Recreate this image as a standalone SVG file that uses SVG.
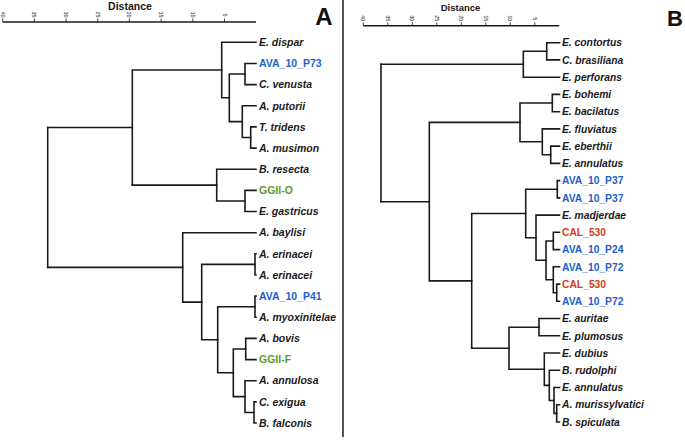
<svg xmlns="http://www.w3.org/2000/svg" width="685" height="440" viewBox="0 0 685 440">
<style>
.bg{fill:#fff}
.br{fill:none;stroke:#1a1a1a;stroke-width:1.6;stroke-linecap:square;stroke-linejoin:miter}
.ax{fill:none;stroke:#1a1a1a;stroke-width:1.5}
.tk{fill:none;stroke:#1a1a1a;stroke-width:0.8}
.tl{font-family:"Liberation Sans",Arial,sans-serif;font-size:5.5px;fill:#1a1a1a}
.ttl{font-family:"Liberation Sans",Arial,sans-serif;font-weight:bold;fill:#1a1a1a;text-anchor:middle}
.pl{font-family:"Liberation Sans",Arial,sans-serif;font-weight:bold;fill:#111}
.la{font-family:"Liberation Sans",Arial,sans-serif;font-weight:bold;font-size:10.5px}
.lb{font-family:"Liberation Sans",Arial,sans-serif;font-weight:bold;font-size:10.3px}
.sp{font-style:italic;fill:#1a1a1a}
.blue{fill:#1c62c9}
.green{fill:#5f9a2c}
.red{fill:#d4401c}
</style>
<rect class="bg" x="0" y="0" width="685" height="440"/>

<!-- Panel A axis -->
<g id="axisA">
<text class="ttl" x="130" y="9.8" font-size="10.5">Distance</text>
<line class="ax" x1="2.7" y1="22" x2="256" y2="22"/>
<g class="tk">
<line x1="2.7" y1="18.5" x2="2.7" y2="22"/><line x1="34.4" y1="18.5" x2="34.4" y2="22"/><line x1="66.1" y1="18.5" x2="66.1" y2="22"/><line x1="97.8" y1="18.5" x2="97.8" y2="22"/><line x1="129.4" y1="18.5" x2="129.4" y2="22"/><line x1="161.1" y1="18.5" x2="161.1" y2="22"/><line x1="192.8" y1="18.5" x2="192.8" y2="22"/><line x1="224.5" y1="18.5" x2="224.5" y2="22"/>
</g>
<g class="tl">
<text transform="translate(0.7,11.5) rotate(90)">40</text>
<text transform="translate(32.4,11.5) rotate(90)">35</text>
<text transform="translate(64.1,11.5) rotate(90)">30</text>
<text transform="translate(95.8,11.5) rotate(90)">25</text>
<text transform="translate(127.4,11.5) rotate(90)">20</text>
<text transform="translate(159.1,11.5) rotate(90)">15</text>
<text transform="translate(190.8,11.5) rotate(90)">10</text>
<text transform="translate(222.5,13.5) rotate(90)">5</text>
</g>
<text class="pl" x="324" y="25" font-size="24" text-anchor="middle">A</text>
</g>

<!-- Panel B axis -->
<g id="axisB">
<text class="ttl" x="460.5" y="10.5" font-size="9.5">Distance</text>
<line class="ax" x1="363.3" y1="25.7" x2="559.3" y2="25.7"/>
<g class="tk">
<line x1="363.3" y1="22.3" x2="363.3" y2="25.7"/><line x1="387.8" y1="22.3" x2="387.8" y2="25.7"/><line x1="412.3" y1="22.3" x2="412.3" y2="25.7"/><line x1="436.8" y1="22.3" x2="436.8" y2="25.7"/><line x1="461.3" y1="22.3" x2="461.3" y2="25.7"/><line x1="485.8" y1="22.3" x2="485.8" y2="25.7"/><line x1="510.3" y1="22.3" x2="510.3" y2="25.7"/><line x1="534.8" y1="22.3" x2="534.8" y2="25.7"/>
</g>
<g class="tl">
<text transform="translate(361.3,15.3) rotate(90)">40</text>
<text transform="translate(385.8,15.3) rotate(90)">35</text>
<text transform="translate(410.3,15.3) rotate(90)">30</text>
<text transform="translate(434.8,15.3) rotate(90)">25</text>
<text transform="translate(459.3,15.3) rotate(90)">20</text>
<text transform="translate(483.8,15.3) rotate(90)">15</text>
<text transform="translate(508.3,15.3) rotate(90)">10</text>
<text transform="translate(532.8,17.3) rotate(90)">5</text>
</g>
<text class="pl" x="675" y="26" font-size="22" text-anchor="middle">B</text>
</g>

<!-- divider -->
<line id="divider" x1="343" y1="0" x2="343" y2="437" stroke="#1a1a1a" stroke-width="1.5"/>

<!-- Panel A connectors -->
<g id="connectorsA" class="br">
<path d="M47.7,127.5V267.4"/>
<path d="M47.7,127.5H132.3V70H221.7V42.3H256"/>
<path d="M132.3,127.5V185.1"/>
<path d="M221.7,70V97.8H229.3V74H245V63.5H256"/>
<path d="M245,74V84.6H256"/>
<path d="M229.3,97.8V121.6H242.3V105.8H256"/>
<path d="M242.3,121.6V137.5H250.7V126.9H256"/>
<path d="M250.7,137.5V148.1H256"/>
<path d="M132.3,185.1H216.7V169.2H256"/>
<path d="M216.7,185.1V201H245V190.4H256"/>
<path d="M245,201V211.5H256"/>
<path d="M47.7,267.4H182.7V232.7H256"/>
<path d="M182.7,267.4V302.1H201.7V264.4H255V253.8H256"/>
<path d="M255,264.4V275H256"/>
<path d="M201.7,302.1V339.8H217.7V306.7H255V296.1H256"/>
<path d="M255,306.7V317.3H256"/>
<path d="M217.7,339.8V372.8H233.3V349H245.7V338.4H256"/>
<path d="M245.7,349V359.6H256"/>
<path d="M233.3,372.8V396.6H245V380.7H256"/>
<path d="M245,396.6V412.5H254V401.9H256"/>
<path d="M254,412.5V423H256"/>
</g>

<!-- Panel A nodes -->
<g id="nodeA-Edispar"><text class="la sp" x="259" y="46">E. dispar</text></g>
<g id="nodeA-AVA10P73"><text class="la blue" x="259" y="67.2">AVA_10_P73</text></g>
<g id="nodeA-Cvenusta"><text class="la sp" x="259" y="88.3">C. venusta</text></g>
<g id="nodeA-Aputorii"><text class="la sp" x="259" y="109.5">A. putorii</text></g>
<g id="nodeA-Ttridens"><text class="la sp" x="259" y="130.6">T. tridens</text></g>
<g id="nodeA-Amusimon"><text class="la sp" x="259" y="151.8">A. musimon</text></g>
<g id="nodeA-Bresecta"><text class="la sp" x="259" y="172.9">B. resecta</text></g>
<g id="nodeA-GGIIO"><text class="la green" x="259" y="194.1">GGII-O</text></g>
<g id="nodeA-Egastricus"><text class="la sp" x="259" y="215.2">E. gastricus</text></g>
<g id="nodeA-Abaylisi"><text class="la sp" x="259" y="236.4">A. baylisi</text></g>
<g id="nodeA-Aerinacei1"><text class="la sp" x="259" y="257.5">A. erinacei</text></g>
<g id="nodeA-Aerinacei2"><text class="la sp" x="259" y="278.7">A. erinacei</text></g>
<g id="nodeA-AVA10P41"><text class="la blue" x="259" y="299.8">AVA_10_P41</text></g>
<g id="nodeA-Amyoxinitelae"><text class="la sp" x="259" y="321">A. myoxinitelae</text></g>
<g id="nodeA-Abovis"><text class="la sp" x="259" y="342.1">A. bovis</text></g>
<g id="nodeA-GGIIF"><text class="la green" x="259" y="363.3">GGII-F</text></g>
<g id="nodeA-Aannulosa"><text class="la sp" x="259" y="384.4">A. annulosa</text></g>
<g id="nodeA-Cexigua"><text class="la sp" x="259" y="405.6">C. exigua</text></g>
<g id="nodeA-Bfalconis"><text class="la sp" x="259" y="426.7">B. falconis</text></g>

<!-- Panel B connectors -->
<g id="connectorsB" class="br">
<path d="M381,64.2V201.7"/>
<path d="M381,64.2H523.3V51.3H546.7V42.7H559.5"/>
<path d="M546.7,51.3V59.9H559.5"/>
<path d="M523.3,64.2V77.2H559.5"/>
<path d="M381,201.7H429.3V122.4H520V103H552.3V94.4H559.5"/>
<path d="M552.3,103V111.7H559.5"/>
<path d="M520,122.4V141.8H542.3V128.9H559.5"/>
<path d="M542.3,141.8V154.7H550.7V146.1H559.5"/>
<path d="M550.7,154.7V163.4H559.5"/>
<path d="M429.3,201.7V280.9H471.7V213.5H525.7V189.2H557.3V180.6H559.5"/>
<path d="M557.3,189.2V197.9H559.5"/>
<path d="M525.7,213.5V237.7H536V215.1H559.5"/>
<path d="M536,237.7V260.3H546V241H553.3V232.3H559.5"/>
<path d="M553.3,241V249.6H559.5"/>
<path d="M546,260.3V279.7H553.3V266.8H559.5"/>
<path d="M553.3,279.7V292.7H556.7V284.1H559.5"/>
<path d="M556.7,292.7V301.3H559.5"/>
<path d="M471.7,280.9V348.2H509V327.2H539V318.5H559.5"/>
<path d="M539,327.2V335.8H559.5"/>
<path d="M509,348.2V369.2H544.3V353H559.5"/>
<path d="M544.3,369.2V385.4H549.3V370.3H559.5"/>
<path d="M549.3,385.4V400.5H554V387.5H559.5"/>
<path d="M554,400.5V413.4H556.7V404.7H559.5"/>
<path d="M556.7,413.4V422H559.5"/>
</g>

<!-- Panel B nodes -->
<g id="nodeB-Econtortus"><text class="lb sp" x="562" y="46.4">E. contortus</text></g>
<g id="nodeB-Cbrasiliana"><text class="lb sp" x="562" y="63.6">C. brasiliana</text></g>
<g id="nodeB-Eperforans"><text class="lb sp" x="562" y="80.9">E. perforans</text></g>
<g id="nodeB-Ebohemi"><text class="lb sp" x="562" y="98.1">E. bohemi</text></g>
<g id="nodeB-Ebacilatus"><text class="lb sp" x="562" y="115.4">E. bacilatus</text></g>
<g id="nodeB-Efluviatus"><text class="lb sp" x="562" y="132.6">E. fluviatus</text></g>
<g id="nodeB-Eeberthii"><text class="lb sp" x="562" y="149.8">E. eberthii</text></g>
<g id="nodeB-Eannulatus1"><text class="lb sp" x="562" y="167.1">E. annulatus</text></g>
<g id="nodeB-AVA10P37a"><text class="lb blue" x="562" y="184.3">AVA_10_P37</text></g>
<g id="nodeB-AVA10P37b"><text class="lb blue" x="562" y="201.6">AVA_10_P37</text></g>
<g id="nodeB-Emadjerdae"><text class="lb sp" x="562" y="218.8">E. madjerdae</text></g>
<g id="nodeB-CAL530a"><text class="lb red" x="562" y="236">CAL_530</text></g>
<g id="nodeB-AVA10P24"><text class="lb blue" x="562" y="253.3">AVA_10_P24</text></g>
<g id="nodeB-AVA10P72a"><text class="lb blue" x="562" y="270.5">AVA_10_P72</text></g>
<g id="nodeB-CAL530b"><text class="lb red" x="562" y="287.8">CAL_530</text></g>
<g id="nodeB-AVA10P72b"><text class="lb blue" x="562" y="305">AVA_10_P72</text></g>
<g id="nodeB-Eauritae"><text class="lb sp" x="562" y="322.2">E. auritae</text></g>
<g id="nodeB-Eplumosus"><text class="lb sp" x="562" y="339.5">E. plumosus</text></g>
<g id="nodeB-Edubius"><text class="lb sp" x="562" y="356.7">E. dubius</text></g>
<g id="nodeB-Brudolphi"><text class="lb sp" x="562" y="374">B. rudolphi</text></g>
<g id="nodeB-Eannulatus2"><text class="lb sp" x="562" y="391.2">E. annulatus</text></g>
<g id="nodeB-Amurissylvatici"><text class="lb sp" x="562" y="408.4">A. murissylvatici</text></g>
<g id="nodeB-Bspiculata"><text class="lb sp" x="562" y="425.7">B. spiculata</text></g>
</svg>
